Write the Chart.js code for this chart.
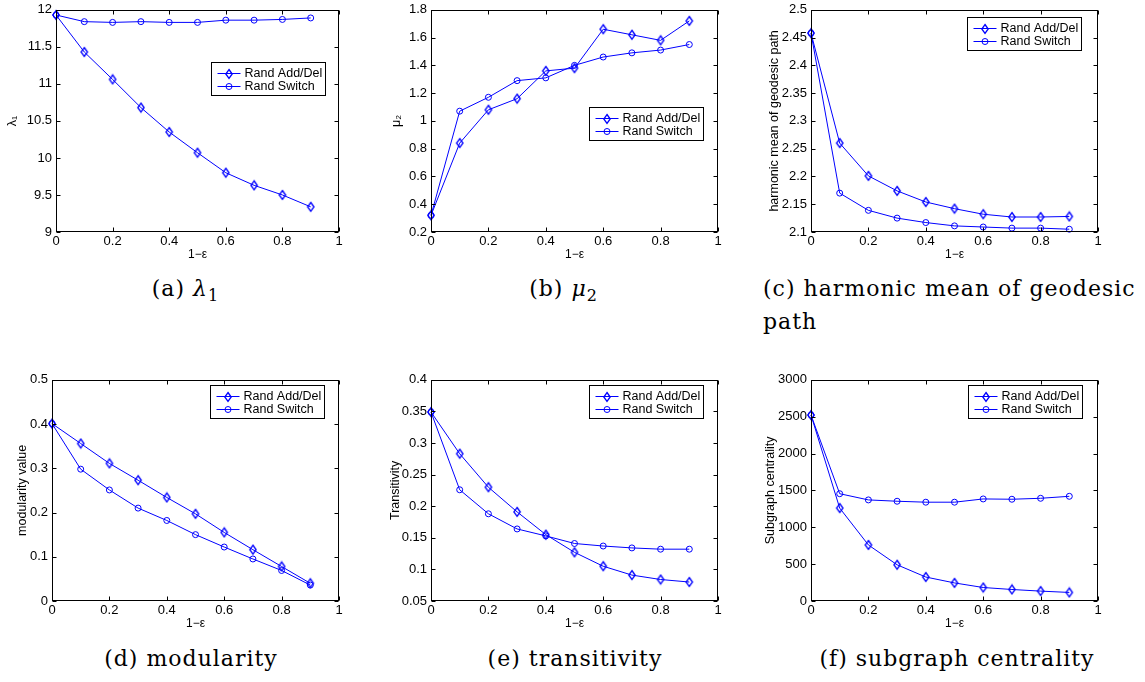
<!DOCTYPE html>
<html>
<head>
<meta charset="utf-8">
<script src="https://cdn.jsdelivr.net/npm/chart.js@4.4.1/dist/chart.umd.min.js"></script>
<style>
body { margin: 0; background: #fff; }
#page { position: relative; width: 1145px; height: 682px; overflow: hidden; }
#page canvas { position: absolute; }
.cap { position: absolute; font-family: 'DejaVu Serif', serif; font-size: 22px; line-height: 24px;
       letter-spacing: 1px; color: #000; white-space: nowrap; text-align: center; width: 300px; }
.cap .sub { font-size: 16px; position: relative; top: 5px; letter-spacing: 0; }
</style>
</head>
<body>
<div id="page">
  <canvas id="chartA" width="348" height="269" style="left:1px;top:-2px"></canvas>
  <canvas id="chartB" width="352" height="269" style="left:376px;top:-2px"></canvas>
  <canvas id="chartC" width="352" height="269" style="left:756px;top:-2px"></canvas>
  <canvas id="chartD" width="352" height="268" style="left:-3px;top:368px"></canvas>
  <canvas id="chartE" width="352" height="268" style="left:376px;top:368px"></canvas>
  <canvas id="chartF" width="352" height="268" style="left:756px;top:368px"></canvas>

  <div class="cap" style="left:35px;top:277px">(a) <i>λ</i><span class="sub">1</span></div>
  <div class="cap" style="left:413px;top:277px">(b) <i>μ</i><span class="sub">2</span></div>
  <div class="cap" style="left:763px;top:277px;width:371px;text-align:left;text-align-last:justify">(c) harmonic mean of geodesic</div>
  <div class="cap" style="left:763px;top:310px;width:100px;text-align:left">path</div>
  <div class="cap" style="left:41px;top:647px">(d) modularity</div>
  <div class="cap" style="left:425px;top:647px">(e) transitivity</div>
  <div class="cap" style="left:807px;top:647px">(f) subgraph centrality</div>
</div>

<script>
const xValues = [0, 0.1, 0.2, 0.3, 0.4, 0.5, 0.6, 0.7, 0.8, 0.9];
const xTicks = [0, 0.2, 0.4, 0.6, 0.8, 1];
const seriesNames = ['Rand Add/Del', 'Rand Switch'];

// (a) lambda_1
const lambdaAddDel = [11.93, 11.43, 11.06, 10.68, 10.35, 10.07, 9.80, 9.63, 9.50, 9.34];
const lambdaSwitch = [11.93, 11.84, 11.83, 11.84, 11.83, 11.83, 11.86, 11.86, 11.87, 11.89];
const lambdaTicks = [9, 9.5, 10, 10.5, 11, 11.5, 12];

// (b) mu_2
const muAddDel = [0.32, 0.84, 1.08, 1.16, 1.36, 1.38, 1.66, 1.62, 1.58, 1.72];
const muSwitch = [0.32, 1.07, 1.17, 1.29, 1.31, 1.40, 1.46, 1.49, 1.51, 1.55];
const muTicks = [0.2, 0.4, 0.6, 0.8, 1, 1.2, 1.4, 1.6, 1.8];

// (c) harmonic mean of geodesic path
const pathAddDel = [2.458, 2.260, 2.201, 2.174, 2.154, 2.142, 2.132, 2.127, 2.127, 2.128];
const pathSwitch = [2.458, 2.170, 2.139, 2.125, 2.117, 2.111, 2.109, 2.107, 2.107, 2.105];
const pathTicks = [2.1, 2.15, 2.2, 2.25, 2.3, 2.35, 2.4, 2.45, 2.5];

// (d) modularity
const modAddDel = [0.401, 0.356, 0.311, 0.273, 0.234, 0.197, 0.155, 0.116, 0.078, 0.040];
const modSwitch = [0.401, 0.298, 0.251, 0.210, 0.182, 0.150, 0.122, 0.095, 0.069, 0.036];
const modTicks = [0, 0.1, 0.2, 0.3, 0.4, 0.5];

// (e) transitivity
const transAddDel = [0.349, 0.283, 0.230, 0.191, 0.155, 0.127, 0.105, 0.091, 0.084, 0.080];
const transSwitch = [0.349, 0.226, 0.188, 0.164, 0.153, 0.141, 0.137, 0.134, 0.132, 0.132];
const transTicks = [0.05, 0.1, 0.15, 0.2, 0.25, 0.3, 0.35, 0.4];

// (f) subgraph centrality
const subAddDel = [2522, 1260, 760, 491, 325, 245, 183, 156, 134, 116];
const subSwitch = [2522, 1455, 1371, 1353, 1340, 1340, 1384, 1380, 1393, 1420];
const subTicks = [0, 500, 1000, 1500, 2000, 2500, 3000];

const BLUE = 'rgb(0,0,255)';
Chart.defaults.font.family = "'Liberation Sans', Arial, 'DejaVu Sans', sans-serif";
Chart.defaults.font.size = 12;
Chart.defaults.color = '#000';

// matlab style diamond marker (a bit taller than wide)
const diamond = document.createElement('canvas');
diamond.width = 10;
diamond.height = 12;
(function () {
    const c = diamond.getContext('2d');
    c.strokeStyle = BLUE;
    c.lineWidth = 1.3;
    c.beginPath();
    c.moveTo(5, 1.5);
    c.lineTo(8.2, 6);
    c.lineTo(5, 10.5);
    c.lineTo(1.8, 6);
    c.closePath();
    c.stroke();
})();

function drawMarker(ctx, ds, x, y) {
    if (ds.pointStyle === diamond) {
        ctx.drawImage(diamond, Math.round(x - diamond.width / 2), Math.round(y - diamond.height / 2));
    } else {
        ctx.beginPath();
        ctx.arc(x, y, ds.pointRadius, 0, Math.PI * 2);
        ctx.stroke();
    }
}

// box around the axes, inward ticks on all sides, boxed legend inside the axes
const matlabAxes = {
    id: 'matlabAxes',
    afterDatasetsDraw(chart, args, opts) {
        const {ctx, chartArea: a, scales} = chart;
        const L = Math.round(a.left) + 0.5, R = Math.round(a.right) - 0.5;
        const T = Math.round(a.top) + 0.5, B = Math.round(a.bottom) - 0.5;
        const tl = 4;
        ctx.save();
        ctx.strokeStyle = '#000';
        ctx.lineWidth = 1;
        ctx.beginPath();
        scales.x.ticks.forEach(t => {
            const px = Math.round(scales.x.getPixelForValue(t.value)) + 0.5;
            ctx.moveTo(px, B); ctx.lineTo(px, B - tl);
            ctx.moveTo(px, T); ctx.lineTo(px, T + tl);
        });
        scales.y.ticks.forEach(t => {
            const py = Math.round(scales.y.getPixelForValue(t.value)) + 0.5;
            ctx.moveTo(L, py); ctx.lineTo(L + tl, py);
            ctx.moveTo(R, py); ctx.lineTo(R - tl, py);
        });
        ctx.stroke();
        ctx.strokeRect(L, T, R - L, B - T);

        // legend
        const w = 114, h = 33;
        const bx = Math.round(a.right - opts.right - w) + 0.5;
        const by = Math.round(a.top + opts.top) + 0.5;
        ctx.fillStyle = '#fff';
        ctx.fillRect(bx, by, w, h);
        ctx.strokeRect(bx, by, w, h);
        ctx.font = "12.5px 'Liberation Sans', Arial, sans-serif";
        ctx.textBaseline = 'middle';
        chart.data.datasets.forEach((ds, i) => {
            const ry = Math.round(by + 10 + i * 13) + 0.5;
            ctx.strokeStyle = BLUE;
            ctx.beginPath();
            ctx.moveTo(bx + 6, ry);
            ctx.lineTo(bx + 29, ry);
            ctx.stroke();
            drawMarker(ctx, ds, bx + 17.5, ry);
            ctx.fillStyle = '#000';
            ctx.fillText(ds.label, bx + 33, ry + 0.5);
        });
        ctx.restore();
    }
};

function fmt(v) {
    return String(Math.round(v * 1e6) / 1e6);
}

function makeChart(id, yTitle, addDel, sw, yTicks, titlePad, legendPos) {
    const ctx = document.getElementById(id).getContext('2d');
    return new Chart(ctx, {
        type: 'line',
        data: {
            labels: xValues,
            datasets: [{
                label: seriesNames[0],
                data: xValues.map((x, i) => ({x: x, y: addDel[i]})),
                borderColor: BLUE,
                borderWidth: 1,
                pointStyle: diamond,
                pointRadius: 4,
                pointBorderColor: BLUE,
                pointBackgroundColor: 'rgba(0,0,0,0)',
                clip: false,
                tension: 0
            }, {
                label: seriesNames[1],
                data: xValues.map((x, i) => ({x: x, y: sw[i]})),
                borderColor: BLUE,
                borderWidth: 1,
                pointStyle: 'circle',
                pointRadius: 3,
                pointBorderWidth: 1,
                pointBorderColor: BLUE,
                pointBackgroundColor: 'rgba(0,0,0,0)',
                clip: false,
                tension: 0
            }]
        },
        options: {
            responsive: false,
            animation: false,
            events: [],
            layout: {padding: {left: 0, top: 8, right: 10, bottom: 0}},
            plugins: {
                legend: {display: false},
                tooltip: {enabled: false},
                matlabAxes: legendPos
            },
            scales: {
                x: {
                    type: 'linear',
                    min: xTicks[0],
                    max: xTicks[xTicks.length - 1],
                    afterBuildTicks: s => { s.ticks = xTicks.map(v => ({value: v})); },
                    afterFit: s => { s.height = 35; },
                    grid: {display: false, drawTicks: false},
                    border: {display: false},
                    ticks: {padding: 2, maxRotation: 0, autoSkip: false, callback: fmt, font: {size: 13}},
                    title: {display: true, text: '1\u2212\u03b5', padding: {top: 0, bottom: 5}}
                },
                y: {
                    type: 'linear',
                    min: yTicks[0],
                    max: yTicks[yTicks.length - 1],
                    afterBuildTicks: s => { s.ticks = yTicks.map(v => ({value: v})); },
                    afterFit: s => { s.width = 55; },
                    grid: {display: false, drawTicks: false},
                    border: {display: false},
                    ticks: {padding: 4, autoSkip: false, callback: fmt, font: {size: 13}},
                    title: {display: true, text: yTitle, padding: {top: titlePad, bottom: 0}, font: {size: 12.5}}
                }
            }
        },
        plugins: [matlabAxes]
    });
}

window.chartA = makeChart('chartA', '\u03bb\u2081', lambdaAddDel, lambdaSwitch, lambdaTicks, 4, {right: 14, top: 52});
window.chartB = makeChart('chartB', '\u03bc\u2082', muAddDel, muSwitch, muTicks, 13, {right: 15, top: 97});
window.chartC = makeChart('chartC', 'harmonic mean of geodesic path', pathAddDel, pathSwitch, pathTicks, 11, {right: 17, top: 7});
window.chartD = makeChart('chartD', 'modularity value', modAddDel, modSwitch, modTicks, 18, {right: 15, top: 5});
window.chartE = makeChart('chartE', 'Transitivity', transAddDel, transSwitch, transTicks, 12, {right: 15, top: 5});
window.chartF = makeChart('chartF', 'Subgraph centrality', subAddDel, subSwitch, subTicks, 7, {right: 16, top: 5});
</script>
</body>
</html>
